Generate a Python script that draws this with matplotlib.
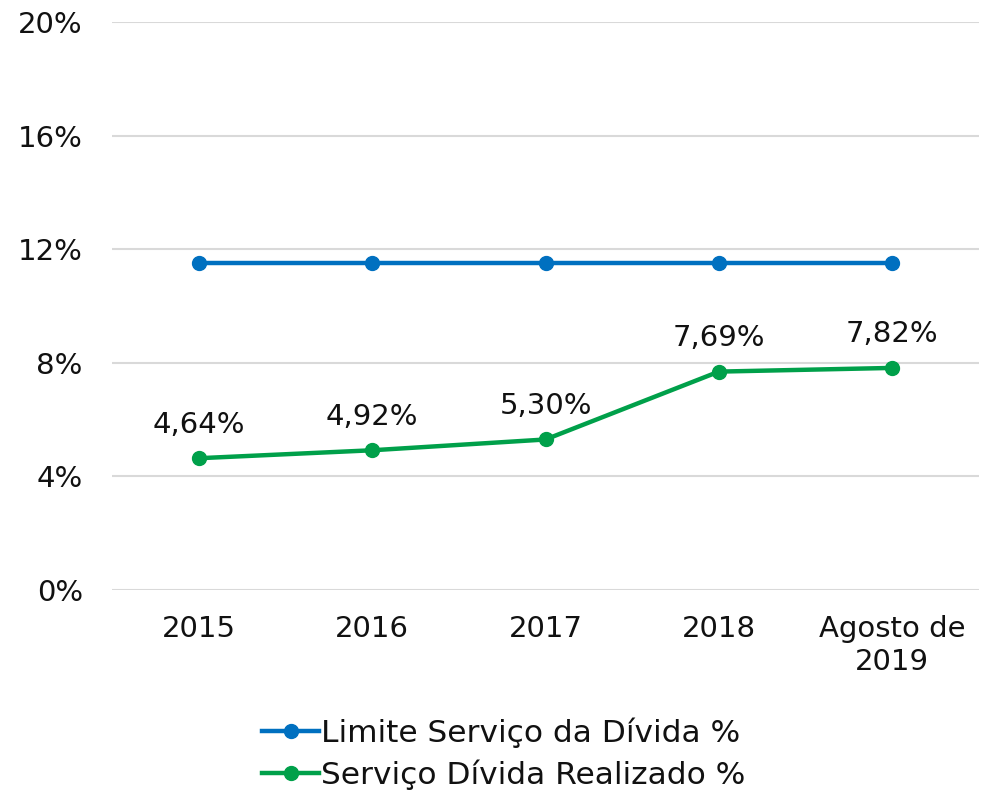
import matplotlib
matplotlib.use("Agg")
import matplotlib.pyplot as plt
from matplotlib.ticker import FuncFormatter

categories = ["2015", "2016", "2017", "2018", "Agosto de\n2019"]
limite = [11.5, 11.5, 11.5, 11.5, 11.5]
realizado = [4.64, 4.92, 5.30, 7.69, 7.82]
realizado_labels = ["4,64%", "4,92%", "5,30%", "7,69%", "7,82%"]
yticks = [0, 4, 8, 12, 16, 20]

plt.rcParams['font.family'] = ['DejaVu Sans']

fig = plt.figure(figsize=(9.81, 7.93), dpi=100)
ax = fig.add_axes([112/981, 1-590/793, (979-112)/981, (590-22)/793])

x = list(range(len(categories)))
blue = "#0070C0"
green = "#00A04A"
ax.plot(x, limite, color=blue, lw=3.2, marker='o', ms=10, label="Limite Serviço da Dívida %", zorder=3)
ax.plot(x, realizado, color=green, lw=3.2, marker='o', ms=10, label="Serviço Dívida Realizado %", zorder=3)

for xi, v, lab in zip(x, realizado, realizado_labels):
    ax.annotate(lab, (xi, v), xytext=(0, 14), textcoords='offset points',
                ha='center', va='bottom', fontsize=21, color='#111111')

ax.set_xlim(-0.5, len(categories) - 0.5)
ax.set_ylim(0, 20)
ax.set_yticks(yticks)
ax.yaxis.set_major_formatter(FuncFormatter(lambda v, p: f"{int(v)}%"))
ax.set_xticks(x)
ax.set_xticklabels(categories, linespacing=1.25)
ax.tick_params(axis='y', length=0, pad=21, labelsize=21, labelcolor='#111111')
ax.tick_params(axis='x', length=0, pad=18, labelsize=21, labelcolor='#111111')
for s in ax.spines.values():
    s.set_visible(False)
ax.grid(axis='y', color='#D9D9D9', lw=1.5)
ax.set_axisbelow(True)

leg = fig.legend(loc='center', bbox_to_anchor=(504/981, 1-754/793), ncol=1, frameon=False,
                 fontsize=22.5, handlelength=1.8, handletextpad=0.08, labelspacing=0.36,
                 labelcolor='#111111')

fig.savefig("out.png", dpi=100)
